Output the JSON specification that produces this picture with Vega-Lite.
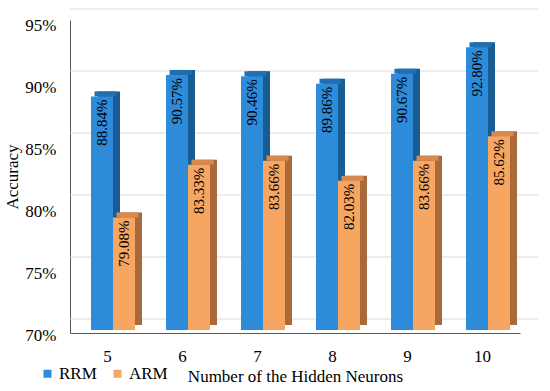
{
  "$schema": "https://vega.github.io/schema/vega-lite/v6.json",
  "width": 450,
  "height": 313,
  "autosize": {"type": "none"},
  "padding": {"left": 70, "top": 20, "right": 30, "bottom": 58},
  "background": "white",
  "config": {
    "view": {"stroke": null},
    "font": "Liberation Serif",
    "axis": {"labelFont": "Liberation Serif", "titleFont": "Liberation Serif", "labelColor": "black", "titleColor": "black", "titleFontWeight": "normal", "labelFontSize": 17, "titleFontSize": 16},
    "legend": {"labelFont": "Liberation Serif", "labelColor": "black", "labelFontSize": 17},
    "text": {"font": "Liberation Serif"}
  },
  "datasets": {
    "bars": [
      {"neurons": "5", "series": "RRM", "acc": 0.8884},
      {"neurons": "6", "series": "RRM", "acc": 0.9057},
      {"neurons": "7", "series": "RRM", "acc": 0.9046},
      {"neurons": "8", "series": "RRM", "acc": 0.8986},
      {"neurons": "9", "series": "RRM", "acc": 0.9067},
      {"neurons": "10", "series": "RRM", "acc": 0.928},
      {"neurons": "5", "series": "ARM", "acc": 0.7908},
      {"neurons": "6", "series": "ARM", "acc": 0.8333},
      {"neurons": "7", "series": "ARM", "acc": 0.8366},
      {"neurons": "8", "series": "ARM", "acc": 0.8203},
      {"neurons": "9", "series": "ARM", "acc": 0.8366},
      {"neurons": "10", "series": "ARM", "acc": 0.8562}
    ],
    "grid": [{"g": 0.70}, {"g": 0.75}, {"g": 0.80}, {"g": 0.85}, {"g": 0.90}, {"g": 0.95}]
  },
  "data": {"name": "bars"},
  "encoding": {
    "x": {"field": "neurons", "type": "ordinal", "sort": ["5", "6", "7", "8", "9", "10"],
      "scale": {"paddingInner": 0, "paddingOuter": 0},
      "axis": {"title": "Number of the Hidden Neurons", "labelAngle": 0, "ticks": false, "domainColor": "#595959", "labelPadding": 15, "titlePadding": 4, "titleFontSize": 17}},
    "y": {"field": "acc", "type": "quantitative",
      "scale": {"domain": [0.6976, 0.95], "nice": false, "zero": false},
      "axis": {"title": "Accuracy", "values": [0.70, 0.75, 0.80, 0.85, 0.90, 0.95], "format": ".0%", "grid": false, "ticks": false, "domainColor": "#595959", "labelPadding": 14, "labelOffset": 5, "titlePadding": 3, "titleFontSize": 17}}
  },
  "layer": [
    {
      "data": {"name": "grid"},
      "mark": {"type": "rule", "color": "#D9D9D9", "strokeWidth": 1, "xOffset": 18, "x2Offset": 18, "yOffset": -11},
      "encoding": {"x": null, "y": {"field": "g", "type": "quantitative"}}
    },
    {
      "transform": [{"filter": "datum.series === 'RRM'"}],
      "mark": {"type": "bar", "width": 22, "color": "#175C93", "xOffset": 1.5, "yOffset": -5, "y2Offset": -5},
      "encoding": {"y2": {"datum": 0.70}}
    },
    {
      "transform": [{"filter": "datum.series === 'ARM'"}],
      "mark": {"type": "bar", "width": 22, "color": "#A9693A", "xOffset": 23.5, "yOffset": -5, "y2Offset": -5},
      "encoding": {"y2": {"datum": 0.70}}
    },
    {
      "transform": [{"filter": "datum.series === 'RRM'"}],
      "mark": {"type": "tick", "orient": "horizontal", "size": 22, "thickness": 5, "color": "#1E70B3", "opacity": 1, "xOffset": -2, "yOffset": -2.5}
    },
    {
      "transform": [{"filter": "datum.series === 'ARM'"}],
      "mark": {"type": "tick", "orient": "horizontal", "size": 22, "thickness": 5, "color": "#D68A4F", "opacity": 1, "xOffset": 20, "yOffset": -2.5}
    },
    {
      "transform": [{"filter": "datum.series === 'RRM'"}],
      "mark": {"type": "bar", "width": 22, "xOffset": -5.5},
      "encoding": {"y2": {"datum": 0.70},
        "color": {"field": "series", "type": "nominal", "scale": {"domain": ["RRM", "ARM"], "range": ["#2E8BDA", "#F7A662"]},
          "legend": {"title": null, "orient": "none", "legendX": -31, "legendY": 345, "direction": "horizontal", "symbolType": "square", "symbolSize": 64, "symbolStrokeWidth": 0, "labelOffset": 3, "columnPadding": 12, "padding": 0}}}
    },
    {
      "transform": [{"filter": "datum.series === 'ARM'"}],
      "mark": {"type": "bar", "width": 22, "xOffset": 16.5},
      "encoding": {"y2": {"datum": 0.70},
        "color": {"field": "series", "type": "nominal"}}
    },
    {
      "transform": [{"filter": "datum.series === 'RRM'"}],
      "mark": {"type": "text", "angle": 270, "align": "right", "baseline": "middle", "dx": -3, "xOffset": -5.5, "fontSize": 15, "color": "black", "font": "Liberation Serif"},
      "encoding": {"text": {"field": "acc", "format": ".2%"}}
    },
    {
      "transform": [{"filter": "datum.series === 'ARM'"}],
      "mark": {"type": "text", "angle": 270, "align": "right", "baseline": "middle", "dx": -3, "xOffset": 16.5, "fontSize": 15, "color": "black", "font": "Liberation Serif"},
      "encoding": {"text": {"field": "acc", "format": ".2%"}}
    }
  ]
}
